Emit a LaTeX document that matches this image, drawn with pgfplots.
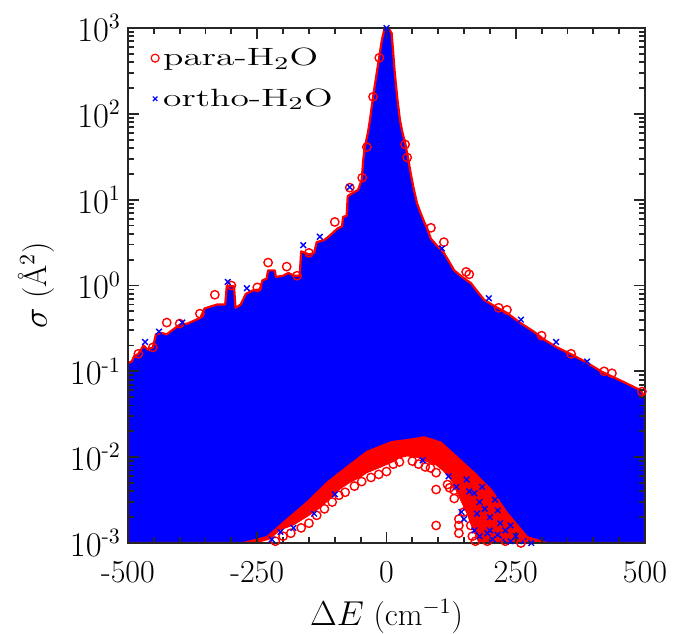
\documentclass[border=0pt]{standalone}
\usepackage{amsmath}
\usepackage{graphicx}
\usepackage{pgfplots}
\pgfplotsset{compat=1.18}
\definecolor{axgray}{RGB}{38,38,38}
\begin{document}
\begin{tikzpicture}
\useasboundingbox (-64pt,-45pt) rectangle (273pt,271.5pt);
\begin{axis}[
  scale only axis, width=258.5pt, height=257.5pt,
  at={(0,0)}, anchor=south west,
  xmin=-500, xmax=500, ymode=log, ymin=1e-3, ymax=1e3,
  xtick={-500,-250,0,250,500}, xticklabels={-500,-250,0,250,500},
  minor xtick={-450,-400,-350,-300,-200,-150,-100,-50,50,100,150,200,300,350,400,450},
  ytick={1e-3,1e-2,1e-1,1,10,100,1000},
  yticklabels={$10^{\text{-}3}$,$10^{\text{-}2}$,$10^{\text{-}1}$,$10^{0}$,$10^{1}$,$10^{2}$,$10^{3}$},
  tick align=inside,
  major tick length=5.5pt, minor tick length=3pt,
  xtick style={draw=axgray, line width=0.9pt},
  ytick style={draw=axgray, line width=0.9pt},
  axis line style={axgray, line width=0.9pt},
  axis on top,
  tick label style={font=\fontsize{16}{19}\selectfont},
  xticklabel style={yshift=-5.5pt},
  every axis x label/.style={at={(axis description cs:0.5,-0.161)},anchor=base,font=\fontsize{16}{19}\selectfont},
  every axis y label/.style={at={(axis description cs:-0.1567,0.5)},rotate=90,anchor=base,font=\fontsize{16}{19}\selectfont},
  xlabel={$\Delta E$ (cm$^{-1}$)},
  ylabel={$\sigma$ (\AA$^2$)},
  legend style={at={(axis description cs:0.044,0.97)}, anchor=north west, draw=none, fill=none,
    font=\fontsize{12.5}{15}\selectfont, row sep=6pt, inner sep=0pt},
  legend cell align=left,
  legend image code/.code={\draw[mark repeat=2,mark phase=2,#1] plot coordinates {(0pt,0pt) (4pt,0pt) (12pt,0pt)};},
]
% red fringe of the low-sigma region
\addplot[fill=red, draw=none, forget plot] coordinates {
(-290,0.001)(-250,0.001)(-225,0.0011)(-206,0.0014)(-180,0.0016)(-154,0.002)(-130,0.0025)(-115,0.003)(-90,0.0042)(-71,0.005)(-50,0.0058)(-38,0.0065)(-15,0.0074)(14,0.0088)(25,0.0097)(40,0.0102)(60,0.0098)(73,0.009)(96,0.008)(110,0.0068)(125,0.0053)(140,0.0034)(155,0.0022)(165,0.0015)(178,0.001)(320,0.001)(320,0.03)(-290,0.03)(-290,0.001)
};
% dense cloud of points
\addplot[fill=blue, draw=red, line width=1.1pt, line join=round, forget plot] coordinates {
(-500,0.001)
(-500,0.125)(-493,0.13)(-488,0.15)(-480,0.16)(-470,0.2)(-462,0.18)(-452,0.19)(-446,0.27)(-435,0.28)(-425,0.27)
(-412,0.31)(-400,0.35)(-385,0.36)(-372,0.39)(-360,0.42)(-352,0.54)(-340,0.57)(-328,0.6)(-312,0.6)(-309,0.98)
(-295,0.98)(-292,0.55)(-282,0.6)(-272,0.8)(-258,0.88)(-245,0.9)(-240,1.15)(-232,1.2)(-229,1.5)(-216,1.5)
(-214,1.26)(-200,1.3)(-190,1.4)(-178,1.3)(-168,1.3)(-165,2.5)(-150,2.3)(-140,2.4)(-135,3.2)(-120,3.4)
(-110,3.8)(-95,4.6)(-86,4.9)(-84,6.3)(-77,6.5)(-75,11)(-65,12)(-55,13)(-48,17)(-45,29)
(-42,41)(-36,60)(-32,85)(-26,158)(-18,324)(-9,724)(-4,980)(2,1000)(6,950)(10,870)
(16,302)(21,150)(26,85)(31,60)(36,46)(42,30)(47,20)(52,14)(59,9.1)(66,7)
(73,5.5)(80,4.4)(86,3.5)(98,2.9)(111,2.4)(121,1.9)(131,1.5)(147,1.25)(163,1.07)(176,0.85)
(189,0.68)(210,0.57)(233,0.48)(258,0.37)(285,0.29)(307,0.23)(330,0.19)(360,0.155)(388,0.126)(415,0.1)
(440,0.085)(465,0.072)(492,0.06)(500,0.049)
(500,0.001)(310,0.001)(272,0.00117)(233,0.00224)(202,0.00417)(169,0.0066)(136,0.01)(105,0.0148)(73,0.017)(40,0.0158)
(10,0.015)(-38,0.0115)(-90,0.0066)(-115,0.005)(-154,0.00295)(-193,0.00186)(-231,0.00117)(-277,0.001)(-500,0.001)
};
% ortho-H2O points mixed into the fringe
\addplot[only marks, mark=x, blue, mark size=2pt, line width=0.7pt, forget plot] coordinates {
(180,0.003)(190,0.0025)(200,0.002)(210,0.0032)(220,0.0017)(230,0.0014)(250,0.0012)(185,0.0045)(160,0.004)(200,0.0014)
(265,0.00105)(280,0.001)(175,0.0022)(155,0.0055)(170,0.0038)(215,0.0024)(240,0.0016)(225,0.0011)
};
% para-H2O points at the edges of the cloud
\addplot[only marks, mark=o, red, mark size=2.1pt, line width=0.7pt, forget plot] coordinates {
(-215,0.00105)(-200,0.0012)(-185,0.0013)(-165,0.0015)(-150,0.0017)(-135,0.0021)(-120,0.0025)(-105,0.003)(-92,0.0036)(-80,0.0039)
(-62,0.0046)(-48,0.0052)(-30,0.0058)(-15,0.0063)(0,0.0068)(13,0.0083)(25,0.0088)(50,0.009)(62,0.0083)(75,0.0077)
(85,0.0075)(96,0.0066)(96,0.0042)(96,0.0016)(118,0.0048)(122,0.0044)(131,0.0041)(131,0.0033)(140,0.0019)(140,0.0016)
(140,0.0013)(150,0.0023)(158,0.0026)(163,0.0016)(166,0.0012)(172,0.00105)(185,0.0012)(195,0.00105)(230,0.00105)(260,0.001)
(-480,0.16)(-452,0.19)(-425,0.37)(-400,0.36)(-361,0.47)(-332,0.78)(-229,1.85)(-193,1.66)(-173,1.3)(-150,2.4)
(-100,5.5)(-71,13.8)(-47,18)(-38,41)(-26,158)(-14,450)(36,44)(40,31)(86,4.7)(111,3.2)
(154,1.44)(160,1.35)(217,0.55)(233,0.52)(300,0.26)(357,0.16)(421,0.1)(436,0.095)(494,0.058)(-250,0.95)(-300,1.0)
};
% ortho-H2O points at the edges of the cloud
\addplot[only marks, mark=x, blue, mark size=2pt, line width=0.7pt, forget plot] coordinates {
(-222,0.0011)(-205,0.00135)(-180,0.0015)(-140,0.0022)(-100,0.0037)(70,0.0092)(145,0.0023)(150,0.0019)(170,0.0014)(180,0.0012)
(195,0.0013)(205,0.0011)(215,0.00125)(240,0.00105)(120,0.006)(135,0.0045)
(-467,0.22)(-307,1.1)(-270,0.93)(-161,2.95)(-129,3.7)(-71,14)(107,2.7)(198,0.71)(328,0.22)(388,0.13)
(260,0.4)(0,1000)(-440,0.29)(-395,0.37)
};
\addlegendimage{only marks, mark=o, red, mark size=2pt, line width=0.6pt}
\addlegendentry{\scalebox{1.5}[1]{para-H$_2$O}}
\addlegendimage{only marks, mark=x, blue, mark size=1.6pt, line width=0.6pt}
\addlegendentry{\scalebox{1.5}[1]{ortho-H$_2$O}}
\end{axis}
\end{tikzpicture}
\end{document}
